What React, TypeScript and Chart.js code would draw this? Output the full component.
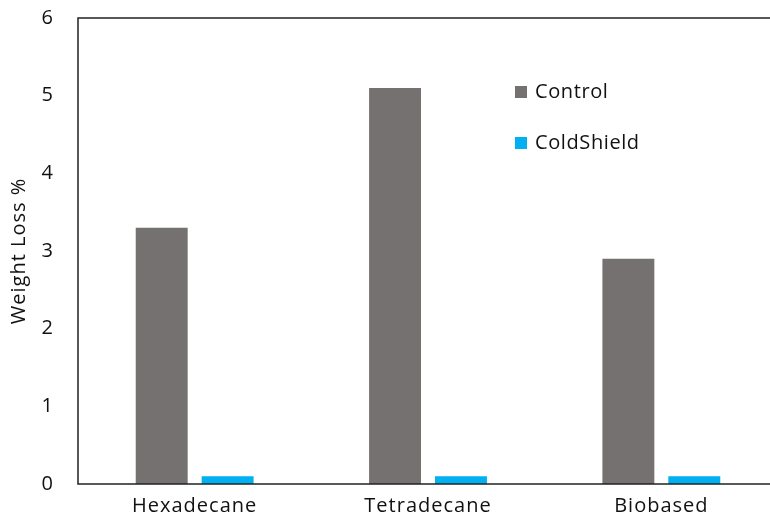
import React, { useEffect, useRef } from "react";
import { Chart, registerables } from "chart.js";

Chart.register(...registerables);

const categories = ["Hexadecane", "Tetradecane", "Biobased"];
const controlValues = [3.3, 5.1, 2.9];
const coldShieldValues = [0.1, 0.1, 0.1];
const seriesLabels = ["Control", "ColdShield"];
const seriesColors = ["#767171", "#00B0F0"];
const yMin = 0;
const yMax = 6;

const FONT = "'Open Sans', sans-serif";

const spacingPlugin = {
  id: "spacingPlugin",
  beforeDraw(chart: any) {
    chart.ctx.letterSpacing = "1px";
  },
};

const boxPlugin = {
  id: "boxPlugin",
  afterDraw(chart: any) {
    const { ctx, chartArea } = chart;
    ctx.save();
    ctx.strokeStyle = "#222";
    ctx.lineWidth = 1.5;
    ctx.strokeRect(chartArea.left, chartArea.top, chartArea.right - chartArea.left, chartArea.bottom - chartArea.top);
    const x0 = chartArea.left + 437;
    const ys = [chartArea.top + 74, chartArea.top + 125];
    chart.data.datasets.forEach((ds: any, i: number) => {
      ctx.fillStyle = ds.backgroundColor;
      ctx.fillRect(x0, ys[i] - 6, 12, 12);
      ctx.fillStyle = "#111";
      ctx.font = `20px ${FONT}`;
      ctx.letterSpacing = "0.6px";
      ctx.textBaseline = "middle";
      ctx.textAlign = "left";
      ctx.fillText(ds.label, x0 + 20, ys[i]);
    });
    ctx.restore();
  },
};

export default function App() {
  const ref = useRef<HTMLCanvasElement>(null);
  useEffect(() => {
    if (!ref.current) return;
    const chart = new Chart(ref.current, {
      type: "bar",
      data: {
        labels: categories,
        datasets: [
          { label: seriesLabels[0], data: controlValues, backgroundColor: seriesColors[0] },
          { label: seriesLabels[1], data: coldShieldValues, backgroundColor: seriesColors[1] },
        ],
      },
      options: {
        animation: false,
        responsive: false,
        layout: { padding: { left: 0, top: 0, right: 22, bottom: 0 } },
        datasets: {
          bar: { categoryPercentage: 0.565, barPercentage: 0.788 },
        },
        plugins: { legend: { display: false }, tooltip: { enabled: false } },
        scales: {
          x: {
            grid: { display: false, drawTicks: false },
            border: { display: false },
            ticks: { color: "#111", font: { family: FONT, size: 20 }, padding: 10 },
            afterFit(scale: any) {
              scale.height = 41;
            },
          },
          y: {
            min: yMin,
            max: yMax,
            grid: { display: false, drawTicks: false },
            border: { display: false },
            ticks: { stepSize: 1, color: "#111", font: { family: FONT, size: 20 }, padding: 24 },
            title: {
              display: true,
              text: "Weight Loss %",
              color: "#111",
              font: { family: FONT, size: 20 },
              padding: { top: 7, bottom: 0 },
            },
            afterFit(scale: any) {
              scale.width = 78;
            },
          },
        },
      },
      plugins: [spacingPlugin, boxPlugin],
    });
    return () => chart.destroy();
  }, []);
  return (
    <div style={{ position: "fixed", left: 0, top: 0, width: 770, height: 525, overflow: "hidden", background: "#fff" }}>
      <canvas ref={ref} width={800} height={543} style={{ display: "block", position: "absolute", left: 0, top: -18 }} />
    </div>
  );
}
